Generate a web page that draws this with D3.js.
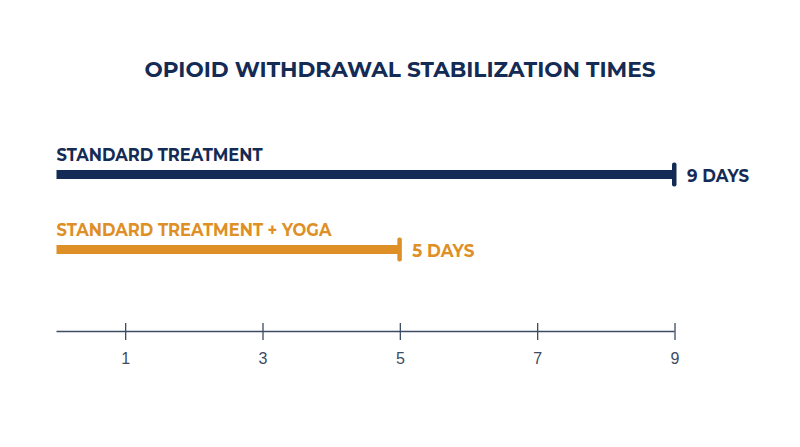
<!DOCTYPE html>
<html><head><meta charset="utf-8">
<script src="https://cdn.jsdelivr.net/npm/d3@7"></script>
<style>
html,body{margin:0;padding:0;background:#fff;}
svg{display:block;}
</style></head>
<body>
<svg id="chart" width="800" height="447"></svg>
<script>
const title = "OPIOID WITHDRAWAL STABILIZATION TIMES";
const categories = ["STANDARD TREATMENT", "STANDARD TREATMENT + YOGA"];
const values = [9, 5];
const valueLabels = ["9 DAYS", "5 DAYS"];
const colors = ["#142b55", "#de8f26"];
const tickValues = [1, 3, 5, 7, 9];

const svg = d3.select("#chart");
const font = "Montserrat, 'Open Sans', 'Liberation Sans', sans-serif";

const x = d3.scaleLinear().domain([0, 9]).range([56.5, 674.5]);
const y = d3.scaleBand().domain(categories).range([137, 287]).paddingInner(0);

svg.append("rect").attr("width", 800).attr("height", 447).attr("fill", "#fff");

svg.append("text")
  .attr("x", 400).attr("y", 77)
  .attr("text-anchor", "middle")
  .attr("font-family", font).attr("font-weight", 700).attr("font-size", 22.5)
  .attr("fill", "#142b55")
  .attr("textLength", 511).attr("lengthAdjust", "spacingAndGlyphs")
  .text(title);

const barCenter = d => y(d) + 37.5;

const g = svg.append("g");
categories.forEach((c, i) => {
  const cy = barCenter(c);
  g.append("text")
    .attr("x", x(0)).attr("y", cy - 14)
    .attr("font-family", font).attr("font-weight", 700).attr("font-size", 17.5)
    .attr("fill", colors[i])
    .attr("textLength", i === 0 ? 206 : 275).attr("lengthAdjust", "spacingAndGlyphs")
    .text(c);
  g.append("rect")
    .attr("x", x(0)).attr("y", cy - 4.5)
    .attr("width", x(values[i]) - x(0)).attr("height", 9)
    .attr("fill", colors[i]);
  g.append("rect")
    .attr("x", x(values[i]) - 2.5).attr("y", cy - 12)
    .attr("width", 4.5).attr("height", 24)
    .attr("rx", 2).attr("ry", 2)
    .attr("fill", colors[i]);
  g.append("text")
    .attr("x", x(values[i]) + 12.5).attr("y", cy + 7)
    .attr("font-family", font).attr("font-weight", 700).attr("font-size", 17.5)
    .attr("fill", colors[i])
    .attr("textLength", 62).attr("lengthAdjust", "spacingAndGlyphs")
    .text(valueLabels[i]);
});

const axisColor = "#3d4b63";
const ax = svg.append("g").attr("transform", "translate(0,331.5)");
ax.append("line").attr("x1", x(0)).attr("x2", x(9)).attr("y1", 0).attr("y2", 0)
  .attr("stroke", axisColor).attr("stroke-width", 1.6);
const axis = d3.axisBottom(x).tickValues(tickValues).tickSize(8.5).tickPadding(12.5).tickFormat(d3.format("d"));
const axG = ax.append("g").call(axis);
axG.attr("font-size", null).attr("font-family", null);
axG.select(".domain").remove();
axG.selectAll(".tick line").attr("y1", -8.5).attr("stroke", axisColor).attr("stroke-width", 1.3);
axG.selectAll(".tick text")
  .style("font-family", "'Liberation Sans', Arial, sans-serif").style("font-size", "16px")
  .attr("fill", axisColor);
</script>
</body></html>
